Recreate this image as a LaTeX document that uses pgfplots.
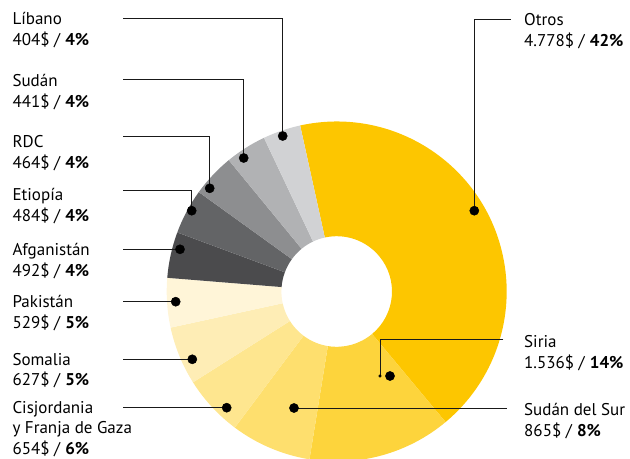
\documentclass[border=0pt]{standalone}
\usepackage{pgfplots}
\pgfplotsset{compat=1.18}
\usepackage{pgfplotstable}
\usepackage{fontspec}
\setmainfont{PT Sans}

\definecolor{cOtros}{HTML}{FDC600}
\definecolor{cSiria}{HTML}{FDD43C}
\definecolor{cSdS}{HTML}{FEDF6E}
\definecolor{cCisj}{HTML}{FEE68F}
\definecolor{cSom}{HTML}{FEEDB5}
\definecolor{cPak}{HTML}{FFF5D8}
\definecolor{cAfg}{HTML}{4B4B4D}
\definecolor{cEti}{HTML}{636466}
\definecolor{cRDC}{HTML}{8D8E90}
\definecolor{cSud}{HTML}{B1B2B4}
\definecolor{cLib}{HTML}{D1D2D4}

% valores en millones de $, en el sentido de las agujas del reloj desde arriba
\pgfplotstableread{
name   value color
Otros  4778  cOtros
Siria  1536  cSiria
SdS    865   cSdS
Cisj   654   cCisj
Som    627   cSom
Pak    529   cPak
Afg    492   cAfg
Eti    484   cEti
RDC    464   cRDC
Sud    441   cSud
Lib    404   cLib
}\datos

\newcommand{\lab}[5]{%
  \node[anchor=base west] at (axis cs:#1,#2) {#3};
  \node[anchor=base west] at (axis cs:#1,#2+20.7) {#4 / \textbf{#5}};
}

\begin{document}
\begin{tikzpicture}[font=\fontsize{17bp}{20.7bp}\selectfont]
\useasboundingbox (0,0) rectangle (630bp,459bp);
\begin{axis}[
  at={(0,0)}, anchor=south west,
  scale only axis, width=630bp, height=459bp,
  xmin=0, xmax=630, ymin=0, ymax=459, y dir=reverse,
  hide axis, clip=false,
  guia/.style={black!90, line width=0.9bp, no marks},
]
% anillo
\pgfplotsextra{%
  \def\ang{102.4}%
  \pgfplotsforeachungrouped \i in {0,...,10}{%
    \pgfplotstablegetelem{\i}{value}\of\datos \let\val\pgfplotsretval
    \pgfplotstablegetelem{\i}{color}\of\datos \let\col\pgfplotsretval
    \pgfmathsetmacro\angb{\ang-\val/11274*360}%
    \fill[\col, shift={(axis cs:336.7,291.5)}]
      (\ang:170bp) arc[start angle=\ang, end angle=\angb, radius=170bp]
      -- (\angb:55.3bp) arc[start angle=\angb, end angle=\ang, radius=55.3bp] -- cycle;
    \global\let\ang\angb
  }%
}

% lineas guia
\addplot[guia] coordinates {(123,18.3) (282.7,18.3) (282.7,136)};
\addplot[guia] coordinates {(123,79) (243.7,79) (243.7,158)};
\addplot[guia] coordinates {(123,136.7) (209.7,136.7) (209.7,188.3)};
\addplot[guia] coordinates {(123,190) (191.7,190) (191.7,210.7)};
\addplot[guia] coordinates {(123,249.3) (180,249.3)};
\addplot[guia] coordinates {(123,301.7) (175.7,301.7)};
\addplot[guia] coordinates {(123,359.3) (192.3,359.3)};
\addplot[guia] coordinates {(123,407.7) (226.7,407.7)};
\addplot[guia] coordinates {(294,408) (507,408)};
\addplot[guia] coordinates {(503.3,339) (380,339) (380,375.5)};
\addplot[guia] coordinates {(510.7,19.3) (474.3,19.3) (474.3,210.7)};

% puntos
\addplot[only marks, mark=*, mark size=4.6bp, black] coordinates {
  (282.7,136) (243.7,158) (209.7,188.3) (191.7,210.7) (180,249.3)
  (175.7,301.7) (192.3,359.3) (226.7,407.7) (294,408) (390,376) (474.3,210.7)
};
\addplot[only marks, mark=*, mark size=1.3bp, black] coordinates {(380,376)};

% etiquetas
\lab{9}{25}{Líbano}{404\$}{4\%}
\lab{9}{86.3}{Sudán}{441\$}{4\%}
\lab{9}{147.3}{RDC}{464\$}{4\%}
\lab{9}{200.6}{Etiopía}{484\$}{4\%}
\lab{9}{255.6}{Afganistán}{492\$}{4\%}
\lab{9}{307.3}{Pakistán}{529\$}{5\%}
\lab{9}{365}{Somalia}{627\$}{5\%}
\node[anchor=base west] at (axis cs:9,413) {Cisjordania};
\lab{9}{433.5}{y Franja de Gaza}{654\$}{6\%}
\lab{520.7}{25.6}{Otros}{4.778\$}{42\%}
\lab{520.7}{347.3}{Siria}{1.536\$}{14\%}
\lab{520.7}{415.6}{Sudán del Sur}{865\$}{8\%}
\end{axis}
\end{tikzpicture}
\end{document}
